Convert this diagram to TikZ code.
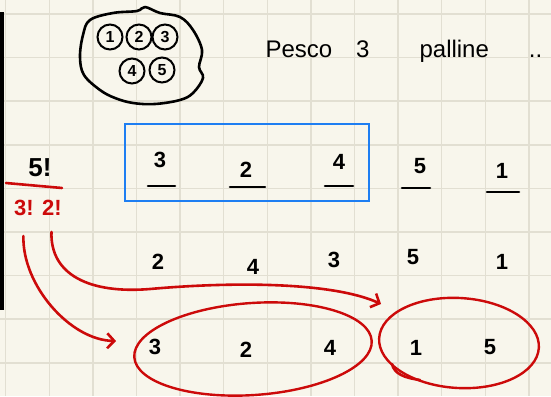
\documentclass[tikz,border=0pt]{standalone}
\usepackage{fontspec}
\setmainfont{Liberation Sans}
\usetikzlibrary{shapes.geometric, arrows.meta, positioning}
\definecolor{paper}{HTML}{F8F6EC}
\definecolor{gridline}{HTML}{E2DFD2}
\definecolor{pen}{HTML}{CC0A0A}
\definecolor{boxblue}{HTML}{1E7EF2}

\begin{document}
\begin{tikzpicture}[
    x=1pt, y=-1pt,
    ink/.style={line width=2.6pt, line cap=round, line join=round},
    redink/.style={ink, draw=pen},
    digit/.style={font=\fontsize{22}{24}\selectfont\bfseries, inner sep=0pt},
    ball/.style={circle, draw, line width=2pt, minimum size=25pt, inner sep=0pt, font=\fontsize{16}{17}\selectfont\bfseries},
    group/.style={ellipse, draw=pen, line width=2.4pt, inner sep=0pt},
    arrow/.style={redink, -{Straight Barb[length=7pt, width=15pt]}}
]

% paper
\fill[paper] (0,0) rectangle (551,396);
\useasboundingbox (0,0) rectangle (551,396);
\foreach \gx in {0,...,12}
    \draw[gridline, line width=1.5pt] ({5.7+43.6*\gx},0) -- ({5.7+43.6*\gx},396);
\foreach \gy in {0,...,8}
    \draw[gridline, line width=1.5pt] (0,{14+43.6*\gy}) -- (551,{14+43.6*\gy});
\fill (0,12) rectangle (3.5,310);

% urn with the balls
\draw[ink] plot[smooth cycle, tension=0.6] coordinates {(90,20) (113,13) (137,11) (145,7) (160,13) (180,17) (193,30) (202,50) (199,67) (203,78) (193,93) (180,100) (155,104) (133,103) (115,98) (100,90) (84,75) (80,57) (83,35)};
\node[ball] (b1) at (110,37) {1};
\node[ball] (b2) at (139,37) {2};
\node[ball] (b3) at (165,37) {3};
\node[ball] (b4) at (132,71) {4};
\node[ball] (b5) at (162,70) {5};

\node[anchor=base west, font=\fontsize{24}{26}\selectfont] (title) at (262,58) {Pesco\hspace{24pt}3\hspace{50pt}palline\hspace{40pt}..};

% count
\node[digit, font=\fontsize{26}{28}\selectfont\bfseries] (fact) at (40,168) {5!};
\draw[redink] (6,183) -- (62,188);
\node[digit, text=pen] (f3) at (24,208) {3!};
\node[digit, text=pen] (f2) at (52,208) {2!};

% first row: slots
\node[draw=boxblue, line width=1.8pt, minimum width=244pt, minimum height=77pt] (pick) at (247,162.5) {};
\foreach \d/\x/\y [count=\i] in {3/160/160, 2/246/170, 4/339/162, 5/420/166, 1/502/171}
    \node[digit] (s\i) at (\x,\y) {\d};
\foreach \a/\b/\y in {148/175/186, 230/265/187, 325/353/186, 402/430/188, 487/519/192}
    \draw[ink] (\a,\y) -- (\b,\y);

% second row
\foreach \d/\x/\y [count=\i] in {2/158/262, 4/253/267, 3/334/260, 5/413/257, 1/502/262}
    \node[digit] (p\i) at (\x,\y) {\d};

% third row, grouped
\foreach \d/\x/\y [count=\i] in {3/155/347, 2/246/350, 4/330/348, 1/416/348, 5/490/347}
    \node[digit] (q\i) at (\x,\y) {\d};
\node[group, minimum width=238pt, minimum height=92pt, rotate=4] (grp3) at (253,349) {};
\node[group, minimum width=160pt, minimum height=90pt, rotate=-3.5] (grp2) at (459,343) {};
\draw[redink] (392,364) .. controls (394,374) and (405,378) .. (420,380);

\coordinate (tip1) at (116,341);
\coordinate (tip2) at (381,304);
\draw[arrow, shorten <=20pt] (f3.south) .. controls (22,285) and (70,340) .. (tip1);
\draw[arrow, shorten <=16pt] (f2.south) .. controls (50,275) and (90,294) .. (150,289) .. controls (240,281) and (335,283) .. (tip2);

\end{tikzpicture}
\end{document}
